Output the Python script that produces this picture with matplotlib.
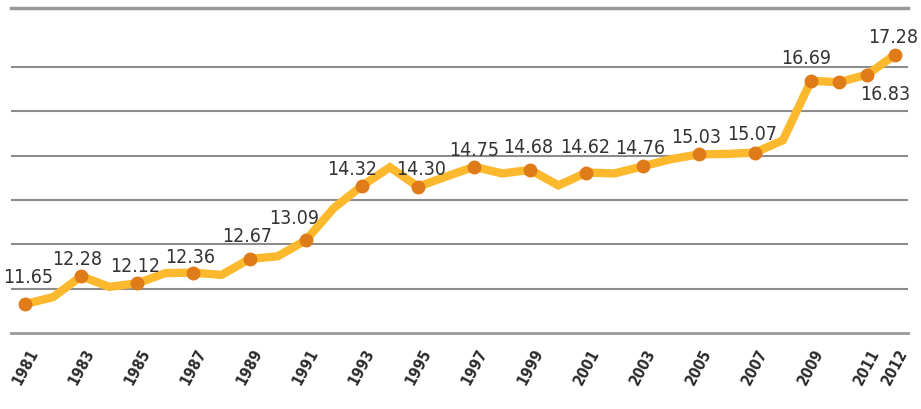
import numpy as np
import matplotlib.pyplot as plt

years = list(range(1981, 2013))
values = [11.65, 11.81, 12.28, 12.04, 12.12, 12.35, 12.36, 12.31, 12.67, 12.73,
          13.09, 13.82, 14.32, 14.74, 14.30, 14.53, 14.75, 14.60, 14.68, 14.33,
          14.62, 14.60, 14.76, 14.92, 15.03, 15.04, 15.07, 15.35, 16.69, 16.66,
          16.83, 17.28]
marker_years = [1981, 1983, 1985, 1987, 1989, 1991, 1993, 1995, 1997, 1999,
                2001, 2003, 2005, 2007, 2009, 2010, 2011, 2012]
label_years = [1981, 1983, 1985, 1987, 1989, 1991, 1993, 1995, 1997, 1999,
               2001, 2003, 2005, 2007, 2009, 2011, 2012]
tick_years = [1981, 1983, 1985, 1987, 1989, 1991, 1993, 1995, 1997, 1999,
              2001, 2003, 2005, 2007, 2009, 2011, 2012]

# label nudges in pixels (dx, height of text centre above the point)
nudge = {1981: (3, 28), 1983: (-4, 18), 1985: (-2, 18), 1987: (-3, 17), 1989: (-3, 24),
         1991: (-12, 23), 1993: (-10, 18), 1995: (3, 19), 1997: (0, 18), 1999: (-2, 24),
         2001: (-1, 27), 2003: (-2, 19), 2005: (-3, 18), 2007: (-3, 20), 2009: (-5, 24),
         2011: (18, -18), 2012: (-2, 19)}

fig = plt.figure(figsize=(9.21, 4.09), dpi=100)
ax = fig.add_axes([0.012, 0.186, 0.974, 0.794])

vals = dict(zip(years, values))
ax.plot(years, values, color='#FDB92E', lw=6, solid_joinstyle='miter', zorder=3)
ax.plot(marker_years, [vals[y] for y in marker_years], 'o', color='#E07B1A',
        ms=9, zorder=4)

lab = dict(fontsize=14, color='#333333', family='DejaVu Sans', fontstretch='condensed')
for y in label_years:
    dx, dy = nudge[y]
    ax.annotate(f'{vals[y]:.2f}', (y, vals[y]), xytext=(dx, dy - 7), textcoords='offset pixels',
                ha='center', va='baseline', **lab)

ax.set_xlim(1980.5, 2012.46)
ax.set_ylim(11, 18.33)
ax.set_yticks(range(12, 18))
ax.yaxis.grid(True, color='#8c8c8c', lw=1.5)
ax.set_axisbelow(True)
ax.tick_params(axis='y', left=False, labelleft=False)
ax.tick_params(axis='x', length=0, pad=10)
ax.set_xticks(tick_years)
ax.set_xticklabels([str(y) for y in tick_years], rotation=62, ha='center', va='top',
                   fontsize=11, fontweight='bold', color='#2a2a2a',
                   family='DejaVu Sans', fontstretch='condensed')
for s in ['left', 'right']:
    ax.spines[s].set_visible(False)
ax.spines['top'].set_color('#999999')
ax.spines['top'].set_linewidth(2.5)
ax.spines['bottom'].set_color('#999999')
ax.spines['bottom'].set_linewidth(2)

plt.savefig('out.png', dpi=100)
